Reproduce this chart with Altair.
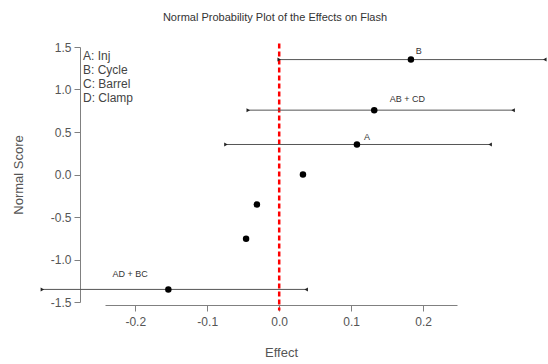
import altair as alt
import pandas as pd

# ---- data ----
effects = [-0.154, -0.046, -0.031, 0.033, 0.108, 0.132, 0.183]
scores = [-1.352, -0.757, -0.353, 0.0, 0.353, 0.757, 1.352]

ci_names = ["AD + BC", "A", "AB + CD", "B"]
ci_effect = [-0.154, 0.108, 0.132, 0.183]
ci_score = [-1.352, 0.353, 0.757, 1.352]
ci_lower = [-0.329, -0.074, -0.043, 0.0]
ci_upper = [0.0375, 0.293, 0.325, 0.369]
label_x = [-0.207, 0.122, 0.178, 0.194]
label_y = [-1.171, 0.441, 0.888, 1.453]

legend_lines = ["A: Inj", "B: Cycle", "C: Barrel", "D: Clamp"]
x_ticks = [-0.2, -0.1, 0.0, 0.1, 0.2]
y_ticks = [-1.5, -1.0, -0.5, 0.0, 0.5, 1.0, 1.5]
x_axis_extent = [-0.242, 0.247]
y_axis_extent = [-1.5, 1.5]
ref_line_y = [1.54, -1.6]

FONT = "Liberation Sans"
AXIS_COLOR = "#808080"
TEXT_COLOR = "#555555"

pts = pd.DataFrame({"effect": effects, "score": scores})
ci = pd.DataFrame({
    "name": ci_names, "effect": ci_effect, "score": ci_score,
    "lower": ci_lower, "upper": ci_upper, "lx": label_x, "ly": label_y,
})
one = pd.DataFrame({"k": [0]})

neg_fmt = "datum.value < 0 ? '-' + format(-datum.value, '.1f') : format(datum.value, '.1f')"

xs = alt.Scale(domain=x_axis_extent, range=[25, 377], nice=False, zero=False)
ys = alt.Scale(domain=y_axis_extent, range=[255, 0], nice=False, zero=False)

x_axis = alt.Axis(values=x_ticks, labelExpr=neg_fmt, grid=False, tickSize=6,
                  labelPadding=5, title="Effect", titleX=201, titleY=47,
                  titleBaseline="middle", titleAlign="center")
y_axis = alt.Axis(values=y_ticks, labelExpr=neg_fmt, grid=False, tickSize=6,
                  labelPadding=3, title="Normal Score", titleX=-62, titleY=127.5,
                  titleBaseline="middle", titleAlign="center")

base_ci = alt.Chart(ci)

ref_line = alt.Chart(one).mark_rule(color="#ff0000", strokeDash=[5, 3], strokeWidth=2.5).encode(
    x=alt.datum(0, scale=xs, axis=x_axis, type="quantitative"),
    y=alt.datum(ref_line_y[0], scale=ys, axis=y_axis, type="quantitative"),
    y2=alt.datum(ref_line_y[1]),
)

bars = base_ci.mark_rule(color="#555555", strokeWidth=1).encode(
    x=alt.X("lower:Q", scale=xs, axis=x_axis),
    x2="upper:Q",
    y=alt.Y("score:Q", scale=ys, axis=y_axis),
)

left_ends = base_ci.mark_point(shape="triangle-right", filled=True, size=16, color="#222222", opacity=1).encode(
    x=alt.X("lower:Q", scale=xs, axis=x_axis),
    y=alt.Y("score:Q", scale=ys, axis=y_axis),
)
right_ends = base_ci.mark_point(shape="triangle-left", filled=True, size=16, color="#222222", opacity=1).encode(
    x=alt.X("upper:Q", scale=xs, axis=x_axis),
    y=alt.Y("score:Q", scale=ys, axis=y_axis),
)

points = alt.Chart(pts).mark_circle(size=42, color="#000000", opacity=1).encode(
    x=alt.X("effect:Q", scale=xs, axis=x_axis),
    y=alt.Y("score:Q", scale=ys, axis=y_axis),
)

labels = base_ci.mark_text(font=FONT, fontSize=9, color="#333333").encode(
    x=alt.X("lx:Q", scale=xs, axis=x_axis),
    y=alt.Y("ly:Q", scale=ys, axis=y_axis),
    text="name:N",
)

legend = alt.Chart(one).mark_text(font=FONT, fontSize=12, color="#444444", align="left",
                                  baseline="top", lineHeight=14, fontWeight="normal").encode(
    x=alt.value(3), y=alt.value(4), text=alt.value(legend_lines),
)

chart = alt.layer(ref_line, bars, left_ends, right_ends, points, labels, legend).properties(
    width=468, height=258,
    autosize=alt.AutoSizeParams(type="none"),
    padding={"left": 80, "top": 47, "right": 0, "bottom": 59},
    title=alt.TitleParams("Normal Probability Plot of the Effects on Flash", font=FONT,
                          fontSize=11, fontWeight="normal", color="#333333",
                          anchor="middle", dx=-39, offset=18),
).configure_view(stroke=None).configure_axis(
    domainColor=AXIS_COLOR, tickColor=AXIS_COLOR, domainWidth=1, tickWidth=1,
    labelFont=FONT, labelFontSize=12, labelColor=TEXT_COLOR,
    titleFont=FONT, titleFontSize=13, titleFontWeight="normal", titleColor=TEXT_COLOR,
)

chart.save("out.html", embed_options={"renderer": "svg", "actions": False})
